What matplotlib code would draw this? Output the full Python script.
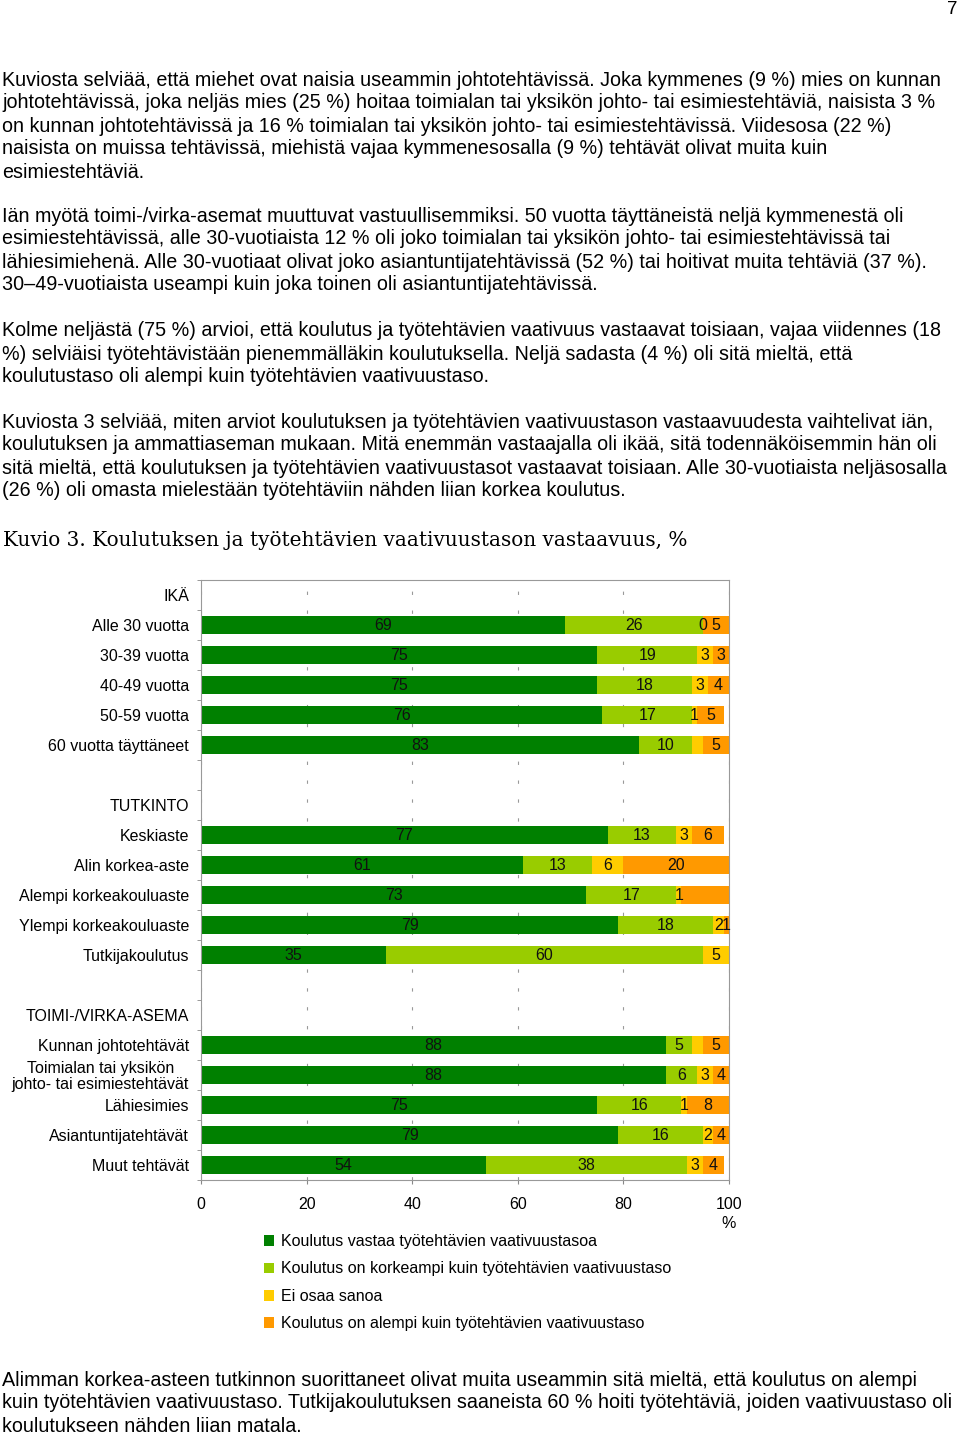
import numpy as np
import matplotlib
matplotlib.use("Agg")
import matplotlib.pyplot as plt

plt.rcParams["font.family"] = ["Liberation Sans", "DejaVu Sans"]

categories = ["IKÄ", "Alle 30 vuotta", "30-39 vuotta", "40-49 vuotta", "50-59 vuotta",
              "60 vuotta täyttäneet", "",
              "TUTKINTO", "Keskiaste", "Alin korkea-aste", "Alempi korkeakouluaste",
              "Ylempi korkeakouluaste", "Tutkijakoulutus", "",
              "TOIMI-/VIRKA-ASEMA", "Kunnan johtotehtävät",
              "Toimialan tai yksikön\njohto- tai esimiestehtävät", "Lähiesimies",
              "Asiantuntijatehtävät", "Muut tehtävät"]

series_names = ["Koulutus vastaa työtehtävien vaativuustasoa",
                "Koulutus on korkeampi kuin työtehtävien vaativuustaso",
                "Ei osaa sanoa",
                "Koulutus on alempi kuin työtehtävien vaativuustaso"]
colors = ["#008000", "#99cc00", "#ffcc00", "#ff9900"]

vastaa = [0, 69, 75, 75, 76, 83, 0, 0, 77, 61, 73, 79, 35, 0, 0, 88, 88, 75, 79, 54]
korkeampi = [0, 26, 19, 18, 17, 10, 0, 0, 13, 13, 17, 18, 60, 0, 0, 5, 6, 16, 16, 38]
ei_osaa = [0, 0, 3, 3, 1, 2, 0, 0, 3, 6, 1, 2, 5, 0, 0, 2, 3, 1, 2, 3]
alempi = [0, 5, 3, 4, 5, 5, 0, 0, 6, 20, 9, 1, 0, 0, 0, 5, 4, 8, 4, 4]

# data labels as printed in the chart ("" = no label shown)
vastaa_lbl = ["", "69", "75", "75", "76", "83", "", "", "77", "61", "73", "79", "35", "", "",
              "88", "88", "75", "79", "54"]
korkeampi_lbl = ["", "26", "19", "18", "17", "10", "", "", "13", "13", "17", "18", "60", "", "",
                 "5", "6", "16", "16", "38"]
ei_osaa_lbl = ["", "0", "3", "3", "1", "", "", "", "3", "6", "1", "2", "5", "", "",
               "", "3", "1", "2", "3"]
alempi_lbl = ["", "5", "3", "4", "5", "5", "", "", "6", "20", "", "1", "", "", "",
              "5", "4", "8", "4", "4"]

x_ticks = [0, 20, 40, 60, 80, 100]
x_tick_labels = ["0", "20", "40", "60", "80", "100\n%"]

page_number = "7"
para1 = ["Kuviosta selviää, että miehet ovat naisia useammin johtotehtävissä. Joka kymmenes (9 %) mies on kunnan",
         "johtotehtävissä, joka neljäs mies (25 %) hoitaa toimialan tai yksikön johto- tai esimiestehtäviä, naisista 3 %",
         "on kunnan johtotehtävissä ja 16 % toimialan tai yksikön johto- tai esimiestehtävissä. Viidesosa (22 %)",
         "naisista on muissa tehtävissä, miehistä vajaa kymmenesosalla (9 %) tehtävät olivat muita kuin",
         "esimiestehtäviä."]
para2 = ["Iän myötä toimi-/virka-asemat muuttuvat vastuullisemmiksi. 50 vuotta täyttäneistä neljä kymmenestä oli",
         "esimiestehtävissä, alle 30-vuotiaista 12 % oli joko toimialan tai yksikön johto- tai esimiestehtävissä tai",
         "lähiesimiehenä. Alle 30-vuotiaat olivat joko asiantuntijatehtävissä (52 %) tai hoitivat muita tehtäviä (37 %).",
         "30–49-vuotiaista useampi kuin joka toinen oli asiantuntijatehtävissä."]
para3 = ["Kolme neljästä (75 %) arvioi, että koulutus ja työtehtävien vaativuus vastaavat toisiaan, vajaa viidennes (18",
         "%) selviäisi työtehtävistään pienemmälläkin koulutuksella. Neljä sadasta (4 %) oli sitä mieltä, että",
         "koulutustaso oli alempi kuin työtehtävien vaativuustaso."]
para4 = ["Kuviosta 3 selviää, miten arviot koulutuksen ja työtehtävien vaativuustason vastaavuudesta vaihtelivat iän,",
         "koulutuksen ja ammattiaseman mukaan. Mitä enemmän vastaajalla oli ikää, sitä todennäköisemmin hän oli",
         "sitä mieltä, että koulutuksen ja työtehtävien vaativuustasot vastaavat toisiaan. Alle 30-vuotiaista neljäsosalla",
         "(26 %) oli omasta mielestään työtehtäviin nähden liian korkea koulutus."]
para5 = ["Alimman korkea-asteen tutkinnon suorittaneet olivat muita useammin sitä mieltä, että koulutus on alempi",
         "kuin työtehtävien vaativuustaso. Tutkijakoulutuksen saaneista 60 % hoiti työtehtäviä, joiden vaativuustaso oli",
         "koulutukseen nähden liian matala."]
title = "Kuvio 3. Koulutuksen ja työtehtävien vaativuustason vastaavuus, %"

W, H = 960, 1436


def fy(py):
    return 1 - py / H


fig = plt.figure(figsize=(W / 100, H / 100), dpi=100)

# page text
fig.text(952 / W, fy(10), page_number, fontsize=13.5, ha="center", va="center")
body_size = 14.25
for lines, y0 in [(para1, 80), (para2, 216), (para3, 331), (para4, 422), (para5, 1380)]:
    for i, line in enumerate(lines):
        fig.text(2 / W, fy(y0 + 23 * i), line, fontsize=body_size, ha="left", va="center")
fig.text(3 / W, fy(540), title, fontsize=14.4, family="DejaVu Serif", ha="left", va="center")

# chart
ax = fig.add_axes([201 / W, fy(1180), (729 - 201) / W, 600 / H])
y = np.arange(len(categories))
left = np.zeros(len(categories))
chart_size = 11.5
for vals, labs, color, name in zip([vastaa, korkeampi, ei_osaa, alempi],
                                   [vastaa_lbl, korkeampi_lbl, ei_osaa_lbl, alempi_lbl],
                                   colors, series_names):
    vals = np.array(vals, dtype=float)
    bars = ax.barh(y, vals, left=left, height=0.6, color=color, label=name)
    ax.bar_label(bars, labels=labs, label_type="center", fontsize=chart_size, color="#111111")
    left += vals

ax.set_xlim(0, 100)
ax.set_ylim(len(categories) - 0.5, -0.5)
ax.set_yticks(y, categories)
ax.set_yticks(np.arange(-0.5, len(categories), 1), minor=True)
ax.tick_params(axis="y", which="major", length=0, pad=8.6, labelsize=chart_size)
ax.tick_params(axis="y", which="minor", length=3, color="#888888", direction="out")
for lbl in ax.get_yticklabels():
    if "\n" in lbl.get_text():
        lbl.set_multialignment("center")
        lbl.set_linespacing(1.05)

ax.set_xticks(x_ticks, x_tick_labels)
ax.tick_params(axis="x", length=3, color="#888888", pad=9, labelsize=chart_size)
for lbl in ax.get_xticklabels():
    lbl.set_linespacing(1.4)
ax.grid(axis="x", color="#999999", linestyle=(0, (3, 14)), linewidth=0.8)
ax.set_axisbelow(True)
for sp in ax.spines.values():
    sp.set_color("#999999")
    sp.set_linewidth(0.8)

handles, labels = ax.get_legend_handles_labels()
fig.legend(handles, labels, loc="upper left", bbox_to_anchor=(264 / W, fy(1234)),
           frameon=False, fontsize=11.5, handlelength=0.65, handleheight=0.65,
           handletextpad=0.4, labelspacing=0.78, borderpad=0, borderaxespad=0)

fig.savefig("out.png", dpi=100)
